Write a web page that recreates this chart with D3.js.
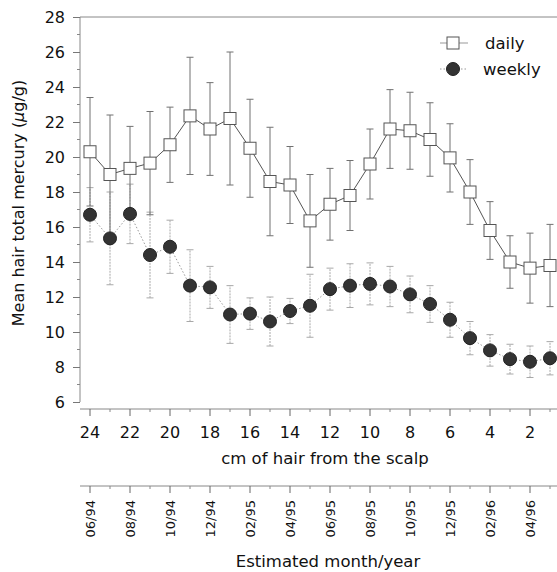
<!DOCTYPE html>
<html>
<head>
<meta charset="utf-8">
<script src="https://cdn.jsdelivr.net/npm/d3@7"></script>
<style>
  body { margin: 0; background: #fff; }
  svg { display: block; }
  text { font-family: "DejaVu Sans", Verdana, sans-serif; fill: #111; }
</style>
</head>
<body>
<svg id="chart" width="557" height="572"></svg>
<script>
"use strict";

// cm of hair from the scalp, one segment per cm
var cm = [24, 23, 22, 21, 20, 19, 18, 17, 16, 15, 14, 13, 12, 11, 10, 9, 8, 7, 6, 5, 4, 3, 2, 1];

// daily fish eaters: mean and SD (µg/g)
var dailyMean = [20.3, 19.0, 19.35, 19.65, 20.7, 22.35, 21.6, 22.2, 20.5, 18.6, 18.4, 16.35, 17.3, 17.8, 19.6, 21.6, 21.5, 21.0, 19.95, 18.0, 15.8, 14.0, 13.65, 13.8];
var dailySd   = [3.1, 3.4, 2.4, 2.95, 2.15, 3.35, 2.65, 3.8, 2.8, 3.1, 2.2, 2.65, 2.05, 2.0, 2.0, 2.25, 2.2, 2.1, 1.95, 1.85, 1.65, 1.5, 2.0, 2.35];

// weekly fish eaters
var weeklyMean = [16.7, 15.35, 16.75, 14.4, 14.87, 12.65, 12.55, 11.0, 11.05, 10.6, 11.2, 11.5, 12.45, 12.65, 12.75, 12.6, 12.15, 11.6, 10.7, 9.65, 8.95, 8.45, 8.3, 8.5];
var weeklySd   = [1.55, 2.65, 1.7, 2.45, 1.52, 2.05, 1.2, 1.65, 0.9, 1.4, 0.72, 1.8, 1.2, 1.25, 1.2, 1.15, 1.05, 1.05, 1.0, 0.95, 0.9, 0.85, 0.9, 0.95];

var yTicks = [6, 8, 10, 12, 14, 16, 18, 20, 22, 24, 26, 28];
var xTicks = [24, 22, 20, 18, 16, 14, 12, 10, 8, 6, 4, 2];
var dateLabels = ["06/94", "08/94", "10/94", "12/94", "02/95", "04/95", "06/95", "08/95", "10/95", "12/95", "02/96", "04/96"];

var svg = d3.select("#chart");

var x = d3.scaleLinear().domain([24.5, 0]).range([80, 570]);
var y = d3.scaleLinear().domain([6, 28]).range([402, 17]);

var xLeft = x(24.5), xRight = 557;

// frame top line
svg.append("line")
	.attr("x1", xLeft).attr("x2", xRight)
	.attr("y1", y(28)).attr("y2", y(28))
	.attr("stroke", "#888").attr("stroke-width", 1);

// y axis
var yAxis = d3.axisLeft(y).tickValues(yTicks).tickSize(7).tickPadding(8);
var yg = svg.append("g").attr("transform", "translate(" + xLeft + ",0)").call(yAxis);
yg.select(".domain").attr("stroke", "#888").attr("d", "M0," + y(6) + "V" + y(28));
yg.selectAll(".tick line").attr("stroke", "#777");
yg.selectAll(".tick text").attr("font-size", 16).attr("fill", "#111")
	.attr("font-family", "DejaVu Sans, sans-serif");
yg.selectAll(".minor").data(d3.range(7, 28, 2)).enter().append("line")
	.attr("x1", -3).attr("x2", 0)
	.attr("y1", function(d) { return y(d); }).attr("y2", function(d) { return y(d); })
	.attr("stroke", "#888");

// x axis: cm
function bottomAxis(top) {
	var g = svg.append("g").attr("transform", "translate(0," + top + ")");
	g.append("line").attr("x1", xLeft).attr("x2", xRight)
		.attr("stroke", "#888");
	g.selectAll(".maj").data(xTicks).enter().append("line")
		.attr("x1", function(d) { return x(d); }).attr("x2", function(d) { return x(d); })
		.attr("y1", 0).attr("y2", 7).attr("stroke", "#666");
	g.selectAll(".min").data(d3.range(23, 0, -2)).enter().append("line")
		.attr("x1", function(d) { return x(d); }).attr("x2", function(d) { return x(d); })
		.attr("y1", 0).attr("y2", 3).attr("stroke", "#888");
	return g;
}

var xg = bottomAxis(409);
xg.selectAll(".lab").data(xTicks).enter().append("text")
	.attr("x", function(d) { return x(d); })
	.attr("y", 29)
	.attr("text-anchor", "middle")
	.attr("font-size", 16)
	.text(function(d) { return d; });

svg.append("text")
	.attr("x", 325).attr("y", 464)
	.attr("text-anchor", "middle")
	.attr("font-size", 16.5)
	.text("cm of hair from the scalp");

// second axis: estimated date
var dg = bottomAxis(486);
dg.selectAll(".lab").data(xTicks).enter().append("text")
	.attr("transform", function(d) { return "translate(" + x(d) + ",14) rotate(-90)"; })
	.attr("dy", "0.36em")
	.attr("text-anchor", "end")
	.attr("font-size", 13)
	.text(function(d, i) { return dateLabels[i]; });

svg.append("text")
	.attr("x", 328).attr("y", 567)
	.attr("text-anchor", "middle")
	.attr("font-size", 16.5)
	.text("Estimated month/year");

// y title
var yt = svg.append("text")
	.attr("transform", "translate(24,203) rotate(-90)")
	.attr("text-anchor", "middle")
	.attr("font-size", 16);
yt.append("tspan").text("Mean hair total mercury (");
yt.append("tspan").attr("font-style", "italic").text("µ");
yt.append("tspan").text("g/g)");

// series
var daily = cm.map(function(c, i) { return { cm: c, mean: dailyMean[i], sd: dailySd[i] }; });
var weekly = cm.map(function(c, i) { return { cm: c, mean: weeklyMean[i], sd: weeklySd[i] }; });

function errorBars(data, color, dash) {
	var g = svg.append("g").attr("stroke", color).attr("stroke-width", 1);
	g.selectAll(".v").data(data).enter().append("line")
		.attr("x1", function(d) { return x(d.cm); }).attr("x2", function(d) { return x(d.cm); })
		.attr("y1", function(d) { return y(d.mean - d.sd); })
		.attr("y2", function(d) { return y(d.mean + d.sd); })
		.attr("stroke-dasharray", dash);
	[-1, 1].forEach(function(s) {
		g.selectAll(".c" + s).data(data).enter().append("line")
			.attr("x1", function(d) { return x(d.cm) - 3.5; }).attr("x2", function(d) { return x(d.cm) + 3.5; })
			.attr("y1", function(d) { return y(d.mean + s * d.sd); })
			.attr("y2", function(d) { return y(d.mean + s * d.sd); });
	});
}

errorBars(weekly, "#a8a8a8", "2,1");
errorBars(daily, "#707070", null);

var line = d3.line().x(function(d) { return x(d.cm); }).y(function(d) { return y(d.mean); });

svg.append("path").datum(weekly).attr("d", line)
	.attr("fill", "none").attr("stroke", "#999").attr("stroke-dasharray", "1.5,2");
svg.append("path").datum(daily).attr("d", line)
	.attr("fill", "none").attr("stroke", "#555");

svg.selectAll(".wk").data(weekly).enter().append("circle")
	.attr("cx", function(d) { return x(d.cm); })
	.attr("cy", function(d) { return y(d.mean); })
	.attr("r", 6.5)
	.attr("fill", "#333").attr("stroke", "#222");

svg.selectAll(".dy").data(daily).enter().append("rect")
	.attr("x", function(d) { return x(d.cm) - 6; })
	.attr("y", function(d) { return y(d.mean) - 6; })
	.attr("width", 12).attr("height", 12)
	.attr("fill", "#fff").attr("stroke", "#555");

// legend
var lg = svg.append("g").attr("transform", "translate(440,43)");
lg.append("line").attr("x1", 0).attr("x2", 28).attr("stroke", "#999");
lg.append("rect").attr("x", 7).attr("y", -6).attr("width", 12).attr("height", 12)
	.attr("fill", "#fff").attr("stroke", "#555");
lg.append("text").attr("x", 45).attr("y", 6).attr("font-size", 16.5).text("daily");
lg.append("line").attr("x1", 0).attr("x2", 28).attr("y1", 26).attr("y2", 26)
	.attr("stroke", "#999").attr("stroke-dasharray", "1.5,2");
lg.append("circle").attr("cx", 13).attr("cy", 26).attr("r", 6.5)
	.attr("fill", "#333").attr("stroke", "#222");
lg.append("text").attr("x", 43).attr("y", 32).attr("font-size", 16.5).text("weekly");
</script>
</body>
</html>
